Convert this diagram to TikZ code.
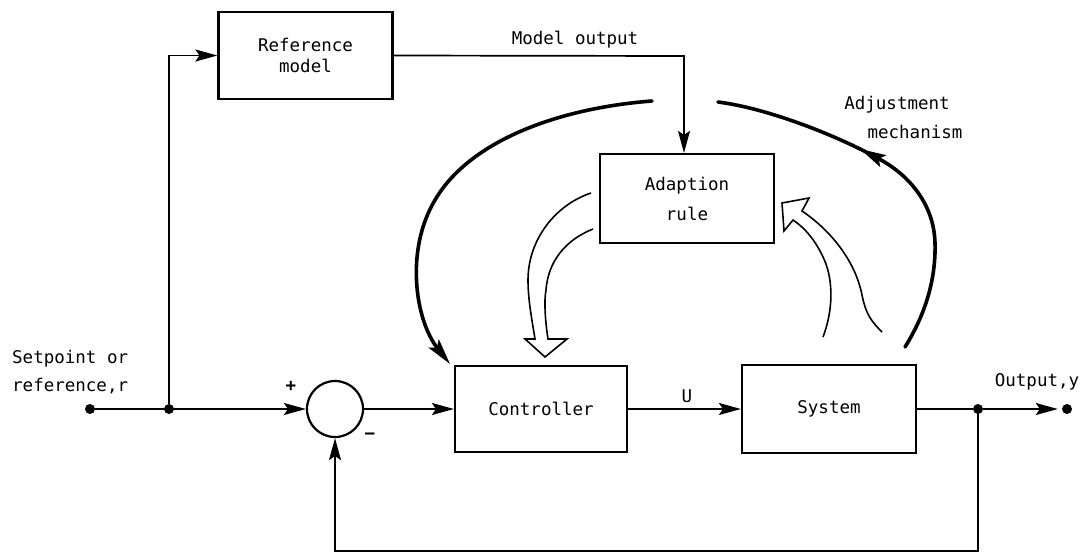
\documentclass[tikz,border=0pt]{standalone}
\usepackage{fontspec}
\setmainfont{DejaVu Sans Mono}
\usetikzlibrary{arrows.meta,calc}
\newcommand\dgfont{\fontsize{17.5}{21}\selectfont}
\begin{document}
\begin{tikzpicture}[x=1pt,y=-1pt,
  box/.style={draw,line width=2.2pt,inner sep=0pt,align=center,font=\dgfont},
  conn/.style={line width=1.7pt},
  arr/.style={conn,-{Stealth[length=22pt,width=12pt,inset=4pt]}},
  bigarc/.style={line width=3.6pt,line cap=round},
  hollow/.style={line width=1.6pt,line join=miter},
  dot/.style={circle,fill,inner sep=0pt,minimum size=10pt},
  lbl/.style={font=\dgfont,inner sep=0pt}]
\useasboundingbox (0,0) rectangle (1091,554);

% blocks
\node[box,minimum width=174pt,minimum height=87pt] (refm) at (305.5,55.5) {Reference\\model};
\node[box,minimum width=174pt,minimum height=89pt,font={\fontsize{17.5}{30}\selectfont}] (adapt) at (687,198.5) {Adaption\\rule};
\node[box,minimum width=172pt,minimum height=86pt] (ctrl) at (541,409) {Controller};
\node[box,minimum width=174pt,minimum height=88pt] (sys) at (829,409) {System};
\node[draw,circle,line width=2.2pt,minimum size=56pt,inner sep=0pt] (sum) at (335,409) {};

% signal points
\node[dot] (in) at (90,409) {};
\node[dot] (j1) at (169,409) {};
\node[dot] (j2) at (978,409) {};
\node[dot] (out) at (1067,409) {};
\coordinate (mo) at (684,56);
\coordinate (fb) at (978,551);

% main signal path
\draw[conn] (in) -- (j1);
\draw[arr] (j1) -- (sum);
\draw[arr] (sum) -- (ctrl);
\draw[arr] (ctrl) -- (sys);
\draw[conn] (sys) -- (j2);
\draw[arr,shorten >=4pt] (j2) -- (out);
\draw[arr] (j1) |- (refm.west);
\draw[arr] (refm.east) -- (mo) -- (mo |- adapt.north);
\draw[arr] (j2) -- (fb) -| (sum.south);

% adjustment mechanism loop
\draw[bigarc,-{Stealth[length=26pt,width=13pt,inset=5pt]}]
  (652,101) .. controls (560,108) and (470,140) .. (435,200)
  .. controls (405,250) and (415,320) .. (450,364);
\draw[bigarc,-{Stealth[length=26pt,width=13pt,inset=5pt]}]
  (905,347) .. controls (925,315) and (936,280) .. (935,243)
  .. controls (934,205) and (910,175) .. (860,149);
\draw[bigarc] (866,152) .. controls (827,132) and (765,108) .. (718,102);

% hollow arrows: adaption rule -> controller, system -> adaption rule
\draw[hollow] (591,193) .. controls (555,205) and (528,240) .. (528,280)
  .. controls (528,300) and (532,320) .. (535,339) -- (525,339) -- (545,357)
  -- (567,339) -- (548,339) .. controls (545,320) and (544,300) .. (546,290)
  .. controls (548,262) and (565,240) .. (593,229);
\draw[hollow] (823,337) .. controls (835,305) and (832,275) .. (823,257)
  .. controls (815,240) and (805,228) .. (793,220) -- (784,231) -- (782,203)
  -- (809,198) -- (802,211) .. controls (830,230) and (855,260) .. (862,295)
  .. controls (866,315) and (872,322) .. (882,332);

% labels
\node[lbl] (lmo) at (575,40) {Model output};
\node[lbl,align=left,anchor=west,font={\fontsize{17.5}{28}\selectfont}] (lsp) at (12,372) {Setpoint or\\reference,r};
\node[lbl] (lplus) at (291,386) {\textbf{+}};
\node[lbl] (lminus) at (370,436) {\textbf{−}};
\node[lbl] (lu) at (687,396) {U};
\node[lbl] (lout) at (1037,382) {Output,y};
\node[lbl] (ladj1) at (897,105) {Adjustment};
\node[lbl] (ladj2) at (915,132) {mechanism};
\end{tikzpicture}
\end{document}
